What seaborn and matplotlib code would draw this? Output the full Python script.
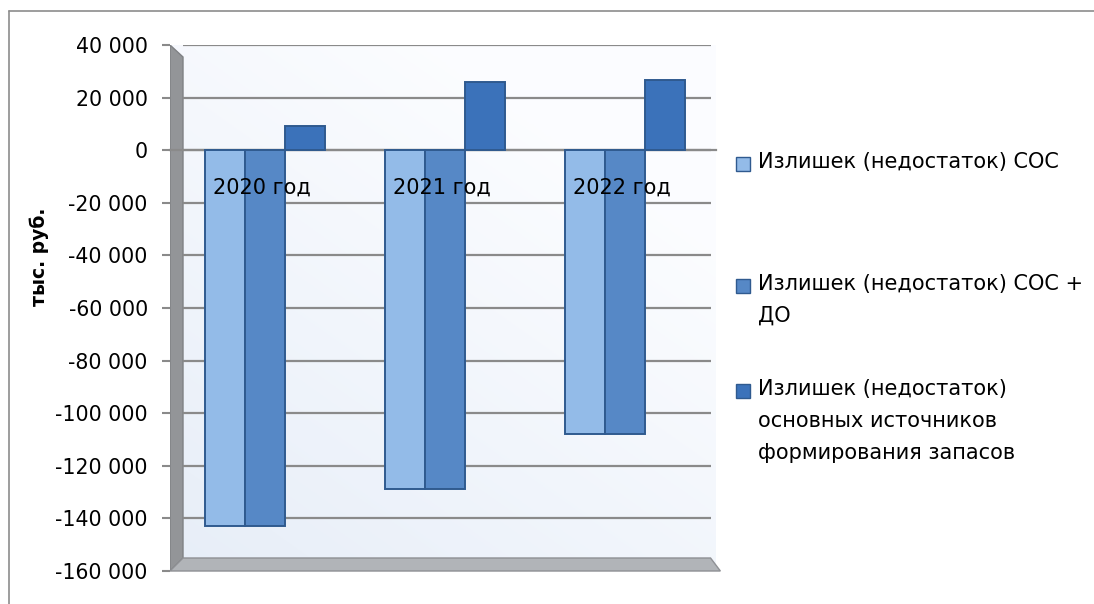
import textwrap

import matplotlib
matplotlib.use("Agg")
import matplotlib.pyplot as plt
from matplotlib.patches import Polygon, Rectangle
from matplotlib.lines import Line2D
import numpy as np
import pandas as pd
import seaborn as sns

# ---- data -------------------------------------------------------------
years = ["2020 год", "2021 год", "2022 год"]
series_names = [
    "Излишек (недостаток) СОС",
    "Излишек (недостаток) СОС + ДО",
    "Излишек (недостаток) основных источников формирования запасов",
]
surplus_soc = [-143000, -129000, -108000]
surplus_soc_do = [-143000, -129000, -108000]
surplus_main = [9300, 25900, 26600]
y_ticks = list(range(-160000, 40001, 20000))
y_label = "тыс. руб."

# ---- style ------------------------------------------------------------
sns.set_theme(style="white")
plt.rcParams["font.family"] = ["DejaVu Sans"]
plt.rcParams["text.color"] = "black"

colors = ["#93bbe8", "#5688c6", "#3b72ba"]
edge_col = "#2f5a8f"
grid_col = "#8a8a8a"

W, H = 1094, 604
fig = plt.figure(figsize=(W / 100, H / 100), dpi=100)
fig.patch.set_facecolor("white")


def fx(px):
    return px / W


def fy(py):
    return 1 - py / H


# plot area (front plane) in pixels
ax_l, ax_r, ax_t, ax_b = 170, 716, 45, 571
ax = fig.add_axes([fx(ax_l), fy(ax_b), (ax_r - ax_l) / W, (ax_b - ax_t) / H])
ax.set_facecolor("none")

df = pd.DataFrame({
    "year": np.repeat(years, 3),
    "series": series_names * len(years),
    "value": [v for trio in zip(surplus_soc, surplus_soc_do, surplus_main) for v in trio],
})

# soft gradient on the back wall
grad = np.linspace(0, 1, 256)
gx, gy = np.meshgrid(grad, grad)
g = np.clip(0.55 * gx + 0.75 * gy, 0, 1)
c0 = np.array([0.905, 0.932, 0.972])
c1 = np.array([0.985, 0.990, 1.0])
img = c0[None, None, :] * (1 - g[..., None]) + c1[None, None, :] * g[..., None]
ax.imshow(img, extent=[0, 1, 0, 1], origin="lower", transform=ax.transAxes,
          aspect="auto", zorder=0)

# side wall and floor
wall_dx = 13 / (ax_r - ax_l)
floor_dy = 13 / (ax_b - ax_t)
ax.add_patch(Polygon([[0, 0], [0, 1], [wall_dx, 1 - 12 / (ax_b - ax_t)],
                      [wall_dx, floor_dy]], closed=True, transform=ax.transAxes,
                     fc="#939598", ec="#7f8184", lw=1.0, zorder=0.6))
ax.add_patch(Polygon([[0, 0], [1.008, 0], [0.99, floor_dy], [wall_dx, floor_dy]],
                     closed=True, transform=ax.transAxes, fc="#b1b4b8",
                     ec="#8e9094", lw=1.0, zorder=0.6, clip_on=False))

# gridlines on the back wall
ax.hlines([t for t in y_ticks if t > y_ticks[0]], wall_dx, 0.99,
          transform=ax.get_yaxis_transform(), colors=grid_col, lw=1.6, zorder=0.7)

sns.barplot(data=df, x="year", y="value", hue="series", hue_order=series_names,
            palette=colors, saturation=1, width=0.667, errorbar=None,
            edgecolor=edge_col, linewidth=1.4, legend=False, ax=ax, zorder=2)

ax.set_xlim(-0.528, 2.506)
ax.set_ylim(y_ticks[0], y_ticks[-1])

# axes cosmetics
for s in ["top", "right", "left"]:
    ax.spines[s].set_visible(False)
ax.spines["bottom"].set_position(("data", 0))
ax.spines["bottom"].set_color(grid_col)
ax.spines["bottom"].set_linewidth(1.6)
ax.spines["bottom"].set_zorder(1.5)

ax.set_xticks([])
ax.set_xticks([0.5, 1.5, 2.5], minor=True)
ax.tick_params(axis="x", which="minor", direction="out", length=6, width=1.5,
               color=grid_col, labelbottom=False)
ax.set_yticks(y_ticks)
ax.set_yticklabels([f"{t:,}".replace(",", " ") for t in y_ticks])
ax.tick_params(axis="y", which="major", left=True, direction="out", length=5.5,
               width=1.5, color=grid_col, pad=10.5, labelsize=14.8, labelcolor="black")
ax.set_xlabel("")
ax.set_ylabel("")

# category labels sit just below the zero line, over the bars
for i, yr in enumerate(years):
    ax.annotate(yr, xy=(i, 0), xytext=(-2, -37 * 0.72), textcoords="offset points",
                ha="center", va="center", fontsize=15, color="black", zorder=6)

fig.text(fx(39), fy(257), y_label, rotation=90, fontsize=13.5, fontweight="bold",
         ha="center", va="center", color="black")

# legend on the right
first_line_centers = [164, 286, 391]
for name, col, yc in zip(series_names, colors, first_line_centers):
    fig.add_artist(Rectangle((fx(736), fy(yc + 7)), 14 / W, 14 / H,
                             transform=fig.transFigure, fc=col, ec=edge_col, lw=1.0))
    fig.text(fx(758), fy(yc - 12), textwrap.fill(name, 26), fontsize=15,
             ha="left", va="top", linespacing=1.75, color="black")

# outer chart frame
fig.add_artist(Line2D([fx(9), 1], [fy(10.5), fy(10.5)], color="#8c8c8c", lw=1.2))
fig.add_artist(Line2D([fx(9), fx(9)], [0, fy(10.5)], color="#8c8c8c", lw=1.2))

fig.savefig("out.png", dpi=100)
